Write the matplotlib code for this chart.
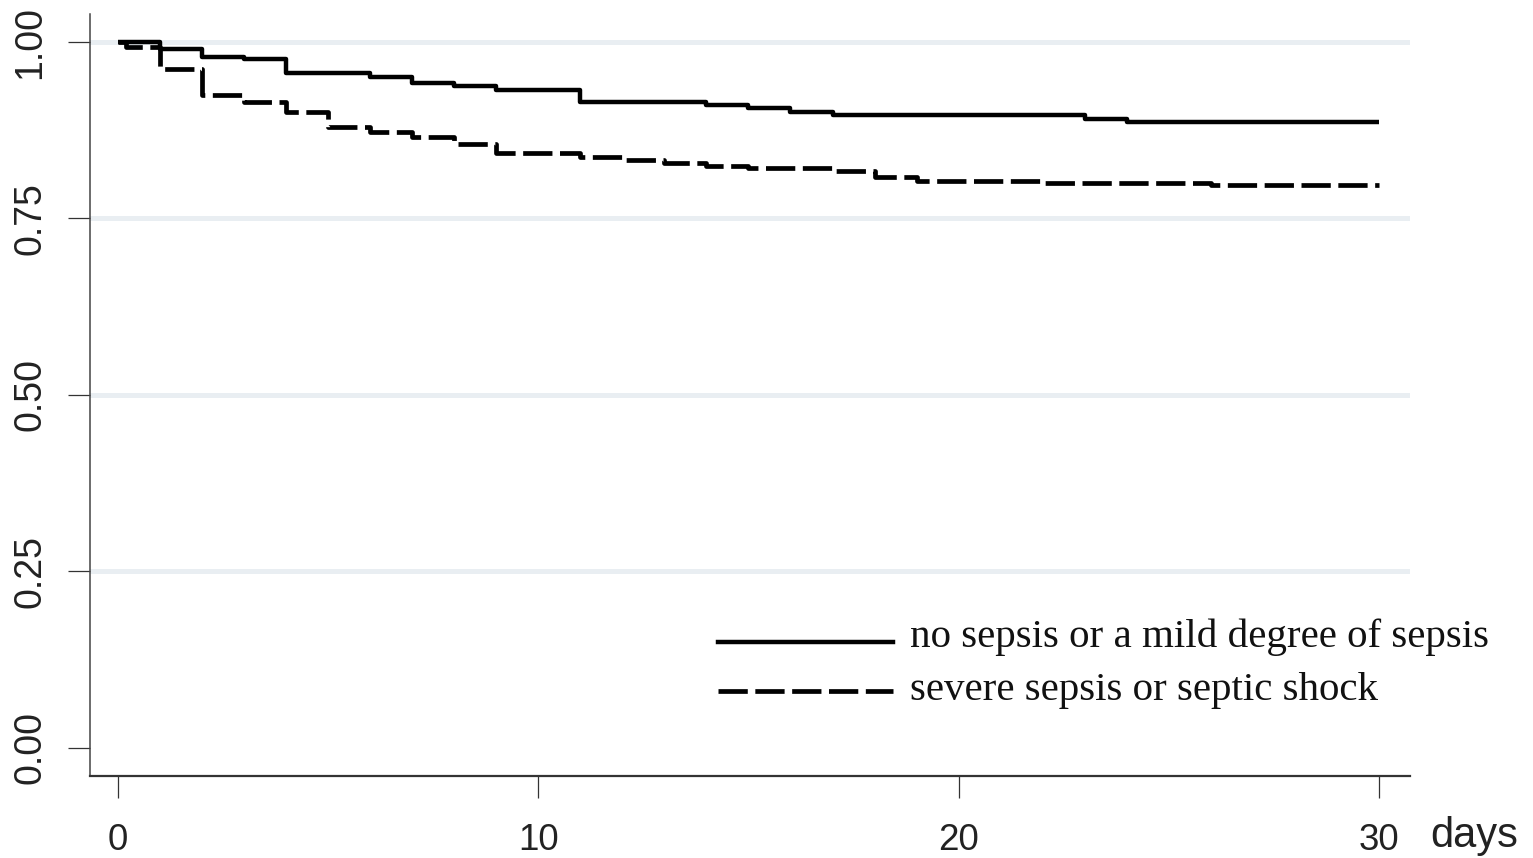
import matplotlib
matplotlib.use("Agg")
import matplotlib.pyplot as plt
from matplotlib.patches import Rectangle

# Kaplan-Meier survival estimates by sepsis severity
days_mild = [0, 1, 2, 3, 4, 6, 7, 8, 9, 11, 14, 15, 16, 17, 23, 24, 30]
surv_mild = [1.000, 0.990, 0.979, 0.976, 0.956, 0.951, 0.942, 0.937, 0.932,
             0.915, 0.911, 0.906, 0.901, 0.897, 0.891, 0.887, 0.887]

days_severe = [0, 0.2, 1, 2, 3, 4, 5, 6, 7, 8, 9, 11, 12, 13, 14, 15, 17,
               18, 19, 22, 26, 30]
surv_severe = [1.000, 0.993, 0.962, 0.925, 0.915, 0.901, 0.880, 0.873, 0.865,
               0.855, 0.843, 0.837, 0.833, 0.829, 0.824, 0.822, 0.817, 0.809,
               0.803, 0.800, 0.797, 0.797]

labels = ["no sepsis or a mild degree of sepsis", "severe sepsis or septic shock"]
x_ticks = [0, 10, 20, 30]
y_ticks = [0.00, 0.25, 0.50, 0.75, 1.00]

fig = plt.figure(figsize=(15.33, 8.58), dpi=100)
ax = fig.add_axes([0.0587, 0.0956, 0.8611, 0.8881])

ax.set_xlim(-0.666, 30.74)
ax.set_ylim(-0.0397, 1.0397)

for y in y_ticks[1:]:
    ax.axhline(y, color="#e9eef2", lw=3.6, zorder=0)

ax.step(days_mild, surv_mild, where="post", color="black", lw=3.2,
        solid_capstyle="butt", zorder=3)
ax.step(days_severe, surv_severe, where="post", color="black", lw=3.4,
        dashes=(6.2, 1.6), dash_capstyle="butt", zorder=3)

for s in ["top", "right"]:
    ax.spines[s].set_visible(False)
ax.spines["left"].set_color("#444444")
ax.spines["left"].set_linewidth(1.1)
ax.spines["bottom"].set_color("#333333")
ax.spines["bottom"].set_linewidth(1.6)

ax.set_xticks(x_ticks)
ax.set_xticklabels([str(t) for t in x_ticks])
ax.set_yticks(y_ticks)
ax.set_yticklabels([f"{t:.2f}" for t in y_ticks], rotation=90, va="center")
ax.tick_params(axis="both", length=16, width=0.9, color="#333333",
               labelcolor="#222222")
ax.tick_params(axis="x", pad=18, labelsize=26.5)
ax.tick_params(axis="y", pad=14, labelsize=27)
for lab in ax.get_xticklabels() + ax.get_yticklabels():
    lab.set_family(["Liberation Sans", "DejaVu Sans"])

fig.text(0.9328, 0.0128, "days", fontsize=30, color="#222222",
         family=["Liberation Sans", "DejaVu Sans"], ha="left", va="baseline")

# legend drawn by hand in axes coordinates; text lines are cropped below
legend_rows = [0.1759, 0.1115]
baselines = [0.1693, 0.0997]
text_clip = [0.1654, 0.0866]
styles = [dict(lw=3.2), dict(lw=3.4, dashes=(6.2, 1.6), dash_capstyle="butt")]
for lab, yrow, ybase, ycut, st in zip(labels, legend_rows, baselines,
                                      text_clip, styles):
    ax.plot([0.4758, 0.6083], [yrow, yrow], color="black",
            transform=ax.transAxes, clip_on=False, **st)
    t = ax.text(0.6212, ybase, lab, transform=ax.transAxes,
                fontsize=29.5, family="Liberation Serif", color="#111111",
                ha="left", va="baseline")
    t.set_clip_path(Rectangle((0.6, ycut), 0.5, 0.08, transform=ax.transAxes))

fig.savefig("out.png", dpi=100)
